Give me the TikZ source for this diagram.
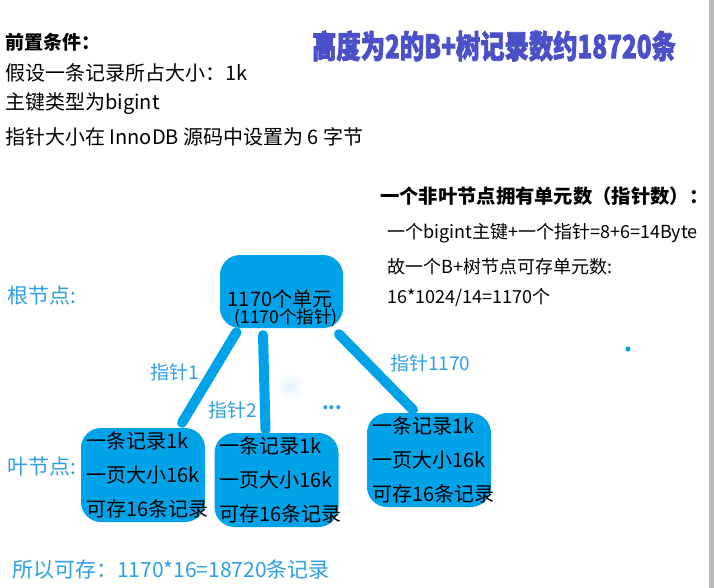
\documentclass[tikz,border=0pt]{standalone}
\usepackage{fontspec}
\setmainfont{Noto Sans CJK SC}
\newfontfamily\titlefont{Noto Sans CJK SC}[BoldFeatures={FakeBold=2.5}]
\usetikzlibrary{backgrounds}

\definecolor{boxblue}{HTML}{00A2E8}
\definecolor{tagblue}{HTML}{2E9FE6}
\definecolor{titleblue}{HTML}{4A50C8}

\begin{document}
\begin{tikzpicture}[x=1pt, y=1pt,
  txt/.style={anchor=west, inner sep=0pt, font=\fontsize{20}{20}\selectfont},
  note/.style={anchor=west, inner sep=0pt, font=\fontsize{18}{18}\selectfont},
  tag/.style={anchor=west, inner sep=0pt, text=tagblue, font=\fontsize{19}{19}\selectfont},
  page/.style={fill=boxblue, rounded corners=20pt, inner xsep=5pt, inner ysep=0pt, text width=114pt, minimum height=94pt, align=left, font=\fontsize{20}{34}\selectfont},
  link/.style={draw=boxblue, line width=10pt, line cap=round}]
\useasboundingbox (0,0) rectangle (714,-588);
\fill[gray!55] (709,0) rectangle (714,-588);

% conditions
\node[txt, font=\bfseries\fontsize{19}{19}\selectfont] (cond) at (5,-42) {前置条件：};
\node[txt] (recsize) at (5,-73) {假设一条记录所占大小：1k};
\node[txt] (keytype) at (5,-104) {主键类型为bigint};
\node[txt] (ptrsize) at (5,-137) {指针大小在 InnoDB 源码中设置为 6 字节};
\node[text=titleblue, inner sep=0pt] (title) at (494,-46) {\scalebox{0.76}[1]{\titlefont\bfseries\fontsize{32}{32}\selectfont 高度为2的B+树记录数约18720条}};

% units of a non-leaf node
\node[txt, font=\bfseries\fontsize{19.3}{19.3}\selectfont] (units) at (380,-196) {一个非叶节点拥有单元数（指针数）：};
\node[note] (unitsize) at (387,-233) {一个bigint主键+一个指针=8+6=14Byte};
\node[note] (unitq) at (387,-267) {故一个B+树节点可存单元数:};
\node[note] (unitcount) at (387,-298) {16*1024/14=1170个};

% tree
\node[fill=boxblue, rounded corners=20pt, minimum width=123pt, minimum height=73pt, inner sep=0pt] (root) at (281.5,-291.5) {};
\node[inner sep=0pt, font=\fontsize{20}{20}\selectfont] (rootunits) at (280,-299) {1170个单元};
\node[inner sep=0pt, font=\fontsize{17.5}{17.5}\selectfont] (rootptrs) at (286,-318) {(1170个指针)};

\node[page] (leaf1) at (143,-475) {一条记录1k\\一页大小16k\\可存16条记录};
\node[page] (leaf2) at (276.5,-480) {一条记录1k\\一页大小16k\\可存16条记录};
\node[page] (leaf3) at (429,-460) {一条记录1k\\一页大小16k\\可存16条记录};

\begin{scope}[on background layer]
\shade[inner color=boxblue!12, outer color=white] (290,-386) circle (14);
\draw[link] ([shift={(-45,-4)}]root.south) -- ([shift={(39,5)}]leaf1.north);
\draw[link] ([shift={(-18.5,-7)}]root.south) -- ([shift={(-11,3)}]leaf2.north);
\draw[link] ([shift={(57.5,-6)}]root.south) -- ([shift={(-16,3)}]leaf3.north);
\end{scope}

\node[tag] (ptr1) at (150,-372) {指针1};
\node[tag] (ptr2) at (208,-410) {指针2};
\node[tag, anchor=base west, font=\bfseries\fontsize{19}{19}\selectfont] (ptrdots) at (322,-409) {...};
\node[tag] (ptrlast) at (390,-363) {指针1170};
\fill[boxblue] (628,-349) circle (2.5);

\node[tag, font=\fontsize{21}{21}\selectfont] (rootlabel) at (7,-296) {根节点:};
\node[tag, font=\fontsize{21}{21}\selectfont] (leaflabel) at (7,-467) {叶节点:};
\node[tag, font=\fontsize{21}{21}\selectfont] (total) at (12,-570) {所以可存：1170*16=18720条记录};
\end{tikzpicture}
\end{document}
